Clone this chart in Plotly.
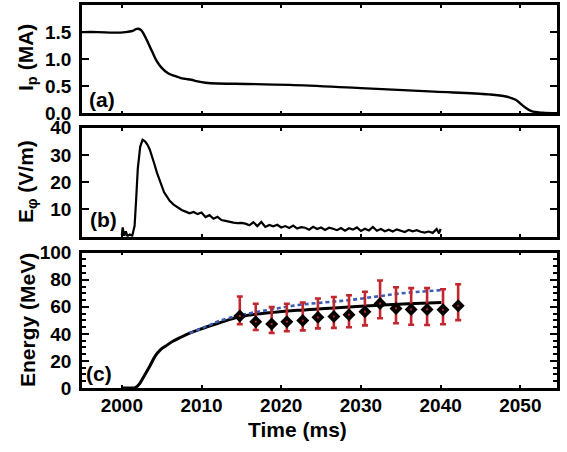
import plotly.graph_objects as go

# ---- (a) plasma current ----
ip_t = [1995.0, 1997.0, 1999.0, 2000.5, 2001.3, 2001.9, 2002.4, 2002.8, 2003.3, 2003.8,
        2004.4, 2005.0, 2005.8, 2006.6, 2007.4, 2008.0, 2008.7, 2009.5, 2010.5, 2012.0,
        2014.2, 2021.0, 2030.0, 2039.2, 2046.0, 2048.2, 2049.4, 2050.5, 2051.4, 2052.8,
        2054.6]
ip_v = [1.50, 1.50, 1.49, 1.50, 1.52, 1.56, 1.54, 1.45, 1.30, 1.14,
        0.96, 0.84, 0.74, 0.69, 0.65, 0.635, 0.62, 0.59, 0.565, 0.55,
        0.545, 0.525, 0.465, 0.40, 0.35, 0.31, 0.25, 0.12, 0.04, 0.01,
        0.0]

# ---- (b) toroidal electric field ----
ef_t = [2000.0, 2000.1, 2000.3, 2000.5, 2000.7, 2001.0, 2001.3, 2001.6, 2001.8, 2002.0,
        2002.3, 2002.6, 2002.9, 2003.2, 2003.5, 2003.8, 2004.1, 2004.4, 2004.7, 2005.0,
        2005.3, 2005.6, 2006.0, 2006.5, 2007.0,
        2007.5, 2008.0, 2008.5, 2009.0, 2009.5, 2010.0, 2010.5, 2011.0, 2011.5, 2012.0,
        2012.5, 2013.0, 2013.5, 2014.0, 2014.5, 2015.0, 2015.5, 2016.0, 2016.5, 2017.0,
        2017.5, 2018.0, 2018.5, 2019.0, 2019.5, 2020.0, 2020.5, 2021.0, 2021.5, 2022.0,
        2022.5, 2023.0, 2023.5, 2024.0, 2024.5, 2025.0, 2025.5, 2026.0, 2026.5, 2027.0,
        2027.5, 2028.0, 2028.5, 2029.0, 2029.5, 2030.0, 2030.5, 2031.0, 2031.5, 2032.0,
        2032.5, 2033.0, 2033.5, 2034.0, 2034.5, 2035.0, 2035.5, 2036.0, 2036.5, 2037.0,
        2037.5, 2038.0, 2038.5, 2039.0, 2039.5, 2039.8, 2040.0]
ef_v = [0.5, 3.4, 0.3, 2.0, 0.2, 0.8, 0.3, 4.0, 14.0, 25.0,
        33.0, 35.6, 35.0, 33.8, 32.0, 29.5, 26.5, 23.5, 21.0, 18.5,
        16.3, 15.0, 13.2, 11.8, 10.8,
        9.8, 9.2, 8.6, 9.1, 8.3, 8.9, 7.2, 7.9, 6.6, 7.3,
        6.1, 5.8, 5.4, 5.2, 5.0, 5.1, 4.8, 4.2, 5.3, 3.9,
        5.4, 3.6, 4.3, 3.8, 4.4, 3.4, 3.9, 3.2, 4.1, 3.0,
        3.5, 3.3, 2.6, 3.6, 2.8, 3.4, 2.5, 3.3, 2.9, 2.4,
        3.2, 2.2, 3.1, 2.6, 3.4, 2.1, 2.9, 2.3, 3.6, 2.2,
        2.8, 2.0, 2.6, 1.9, 2.7, 2.2, 1.7, 2.5, 2.0, 2.4,
        1.8, 1.5, 1.9, 1.4, 2.8, 1.2, 2.9]

# ---- (c) runaway electron energy ----
en_t = [2000.0, 2001.0, 2001.7, 2002.2, 2002.8, 2003.5, 2004.2, 2004.8, 2005.5, 2006.4,
        2007.4, 2008.5, 2009.6, 2010.7, 2011.9, 2013.2, 2014.6, 2016.5, 2018.7, 2022.0,
        2025.5, 2029.0, 2032.4, 2036.0, 2040.1]
en_v = [0.0, 0.0, 0.3, 3.0, 8.8, 16.0, 23.7, 28.0, 31.0, 34.5,
        37.5, 40.5, 43.0, 45.3, 47.5, 50.0, 52.5, 54.3, 55.7, 57.4,
        58.7, 60.0, 61.2, 62.2, 63.2]

model_t = [2008.5, 2011.0, 2012.2, 2014.8, 2018.5, 2022.1, 2025.5, 2028.6, 2032.0, 2035.0, 2040.0]
model_v = [40.5, 46.5, 49.5, 53.7, 57.8, 61.3, 63.3, 65.0, 67.6, 69.9, 72.3]

obs_t = [2014.8, 2016.8, 2018.8, 2020.7, 2022.7, 2024.6, 2026.6, 2028.5, 2030.5, 2032.4,
         2034.4, 2036.3, 2038.3, 2040.3, 2042.2]
obs_v = [53.2, 49.0, 47.3, 49.0, 49.8, 52.2, 52.9, 54.2, 56.4, 62.5,
         58.8, 58.1, 58.1, 57.8, 60.8]
obs_hi = [67.6, 62.3, 59.8, 62.3, 63.2, 66.2, 67.2, 68.6, 71.1, 79.4,
          74.5, 73.8, 73.8, 73.0, 76.7]
obs_lo = [47.1, 42.9, 40.7, 41.9, 42.6, 44.1, 44.4, 44.9, 46.3, 51.5,
          47.8, 46.8, 46.6, 47.1, 50.2]

x_ticks = [2000, 2010, 2020, 2030, 2040, 2050]

FONT = "Liberation Sans, Arial, Helvetica, sans-serif"
BLACK = "#000000"
RED = "#c1272d"
BLUE = "#3d5db3"

W, H = 567, 452
ML, MR, MT, MB = 82, 10, 5, 64

fig = go.Figure()

fig.add_trace(go.Scatter(x=ip_t, y=ip_v, mode="lines", line=dict(color=BLACK, width=2.4),
                         line_shape="spline", xaxis="x", yaxis="y", showlegend=False))
fig.add_trace(go.Scatter(x=ef_t, y=ef_v, mode="lines", line=dict(color=BLACK, width=2.2),
                         xaxis="x2", yaxis="y2", showlegend=False))
fig.add_trace(go.Scatter(x=en_t, y=en_v, mode="lines", line=dict(color=BLACK, width=3),
                         line_shape="spline", xaxis="x3", yaxis="y3", showlegend=False))
fig.add_trace(go.Scatter(x=model_t, y=model_v, mode="lines",
                         line=dict(color=BLUE, width=2.6, dash="4px,3px"),
                         line_shape="spline", xaxis="x3", yaxis="y3", showlegend=False))

err_plus = [h - v for h, v in zip(obs_hi, obs_v)]
err_minus = [v - l for v, l in zip(obs_v, obs_lo)]
fig.add_trace(go.Scatter(x=obs_t, y=obs_v, mode="markers",
                         marker=dict(symbol="diamond", size=10, color=BLACK),
                         error_y=dict(type="data", array=err_plus, arrayminus=err_minus,
                                      color=RED, thickness=2.6, width=3),
                         xaxis="x3", yaxis="y3", showlegend=False))
fig.add_trace(go.Scatter(x=obs_t, y=obs_v, mode="markers",
                         marker=dict(symbol="square", size=2, color=RED),
                         xaxis="x3", yaxis="y3", showlegend=False))

tick_font = dict(family=FONT, size=19, color=BLACK, weight=700)

common_x = dict(range=[1995, 2054.6], tickvals=x_ticks, ticks="inside", ticklen=3,
                tickwidth=1.5, tickcolor=BLACK, showline=True, linewidth=2.6,
                linecolor=BLACK, mirror="ticks", showgrid=False, zeroline=False,
                domain=[0, 1], automargin=False)
common_y = dict(ticks="inside", ticklen=7, tickwidth=2, tickcolor=BLACK, showline=True,
                linewidth=2.6, linecolor=BLACK, mirror="ticks", showgrid=False,
                zeroline=False, tickfont=tick_font, ticklabelstandoff=4,
                automargin=False)

fig.update_layout(
    width=W, height=H,
    margin=dict(l=ML, r=MR, t=MT, b=MB, autoexpand=False),
    paper_bgcolor="white", plot_bgcolor="white",
    xaxis=dict(**common_x, anchor="y", showticklabels=False),
    xaxis2=dict(**common_x, anchor="y2", showticklabels=False),
    xaxis3=dict(**common_x, anchor="y3", showticklabels=True, tickfont=tick_font,
                ticklabelstandoff=-2),
    yaxis=dict(**common_y, anchor="x", domain=[0.7172, 1.0], range=[0, 2.0],
               tickvals=[0, 0.5, 1.0, 1.5], ticktext=["0.0", "0.5", "1.0", "1.5"]),
    yaxis2=dict(**common_y, anchor="x2", domain=[0.395, 0.6796], range=[0, 40],
                tickvals=[10, 20, 30, 40]),
    yaxis3=dict(**common_y, anchor="x3", domain=[0.0, 0.3533], range=[0, 100],
                tickvals=[0, 20, 40, 60, 80, 100],
                minor=dict(dtick=5, ticks="inside", ticklen=4, tickwidth=1.5,
                           tickcolor=BLACK, showgrid=False)),
)

title_font = dict(family=FONT, size=21, color=BLACK, weight=700)
labels = [
    ("I<sub>p</sub> (MA)", 27, 58, -90),
    ("E<sub>φ</sub> (V/m)", 27, 182, -90),
    ("Energy (MeV)", 27, 320, -90),
    ("Time (ms)", 297, 429, 0),
    ("(a)", 102, 99, 0),
    ("(b)", 103, 219, 0),
    ("(c)", 99, 373, 0),
]
# positions are page pixels; convert them to the plotting-area paper fraction
for text, px, py, angle in labels:
    fig.add_annotation(text=text, textangle=angle,
                       x=(px - ML) / (W - ML - MR), y=(H - MB - py) / (H - MT - MB),
                       xref="paper", yref="paper", xanchor="center", yanchor="middle",
                       showarrow=False, font=title_font)

fig.write_html("out.html")
